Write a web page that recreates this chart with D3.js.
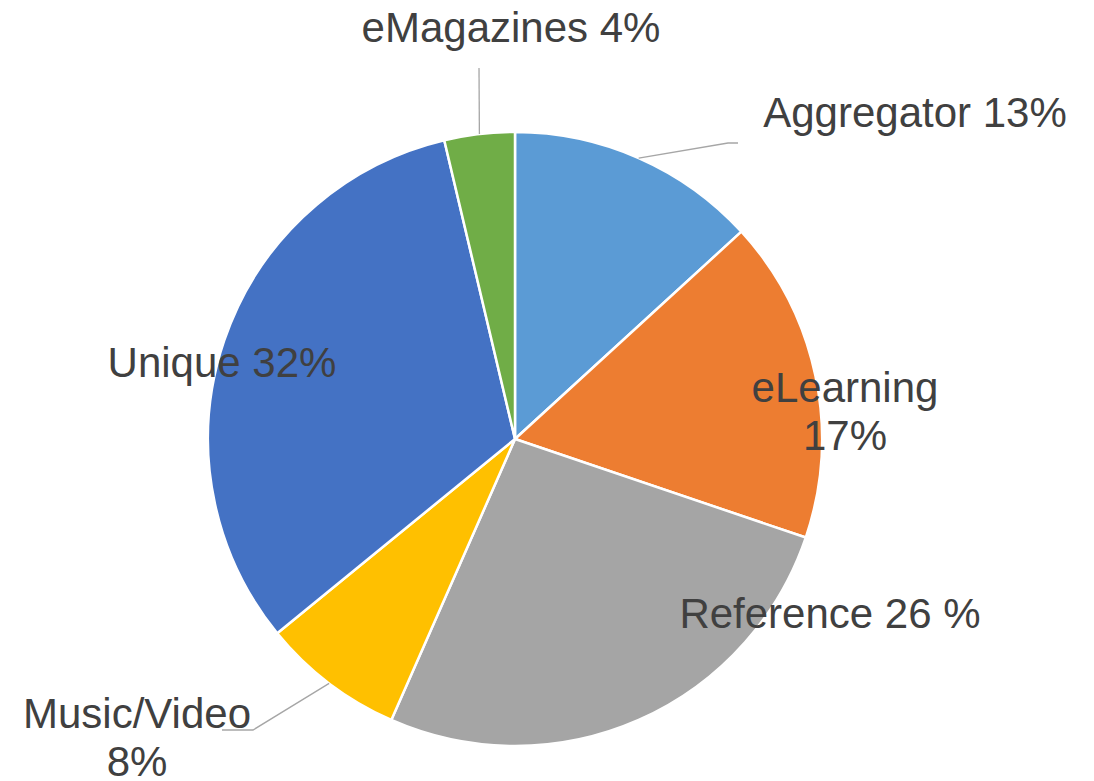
<!DOCTYPE html>
<html>
<head>
<meta charset="utf-8">
<script src="https://cdn.jsdelivr.net/npm/d3@7"></script>
<style>
  html, body { margin: 0; padding: 0; background: #ffffff; }
  svg { display: block; }
</style>
</head>
<body>
<svg id="chart" width="1094" height="781"></svg>
<script>
// ---- data ----
const categories = ["Aggregator", "eLearning", "Reference", "Music/Video", "Unique", "eMagazines"];
const values = [13.2, 17.0, 26.4, 7.5, 32.2, 3.7];
const labelLines = [
  ["Aggregator 13%"],
  ["eLearning", "17%"],
  ["Reference 26 %"],
  ["Music/Video", "8%"],
  ["Unique 32%"],
  ["eMagazines 4%"]
];
const colors = ["#5B9BD5", "#ED7D31", "#A5A5A5", "#FFC000", "#4472C4", "#70AD47"];

// ---- layout ----
const cx = 515, cy = 439, R = 307;
const fontSize = 42, lineH = 48;
// label anchor (center x, first baseline y)
const labelPos = [
  [915, 127],
  [845, 402],
  [830, 628],
  [137, 728],
  [222, 377],
  [511, 42]
];
// leader lines: [elbow, end] or null
const leaders = [
  [[728, 143], [738, 143]],
  null,
  null,
  [[253, 730], [222, 730]],
  null,
  [[479, 68], [479, 68]]
];

const svg = d3.select("#chart");
const g = svg.append("g").attr("transform", `translate(${cx},${cy})`);

const pie = d3.pie().sort(null).value(d => d).startAngle(0).endAngle(2 * Math.PI);
const arcs = pie(values);
const arc = d3.arc().innerRadius(0).outerRadius(R);

g.selectAll("path.slice")
  .data(arcs)
  .join("path")
  .attr("class", "slice")
  .attr("d", arc)
  .attr("fill", (d, i) => colors[i])
  .attr("stroke", "#ffffff")
  .attr("stroke-width", 2.5)
  .attr("stroke-linejoin", "round");

// leader lines
arcs.forEach((d, i) => {
  if (!leaders[i]) return;
  const mid = (d.startAngle + d.endAngle) / 2;
  const sx = cx + R * Math.sin(mid);
  const sy = cy - R * Math.cos(mid);
  const pts = [[sx, sy], leaders[i][0], leaders[i][1]];
  svg.append("path")
    .attr("d", d3.line()(pts))
    .attr("fill", "none")
    .attr("stroke", "#A6A6A6")
    .attr("stroke-width", 1.3);
});

// labels
labelLines.forEach((lines, i) => {
  const t = svg.append("text")
    .attr("x", labelPos[i][0])
    .attr("y", labelPos[i][1])
    .attr("text-anchor", "middle")
    .attr("font-family", "'Liberation Sans', Arial, sans-serif")
    .attr("font-size", fontSize)
    .attr("fill", "#404040");
  lines.forEach((ln, j) => {
    t.append("tspan")
      .attr("x", labelPos[i][0])
      .attr("dy", j === 0 ? 0 : lineH)
      .text(ln);
  });
});
</script>
</body>
</html>
